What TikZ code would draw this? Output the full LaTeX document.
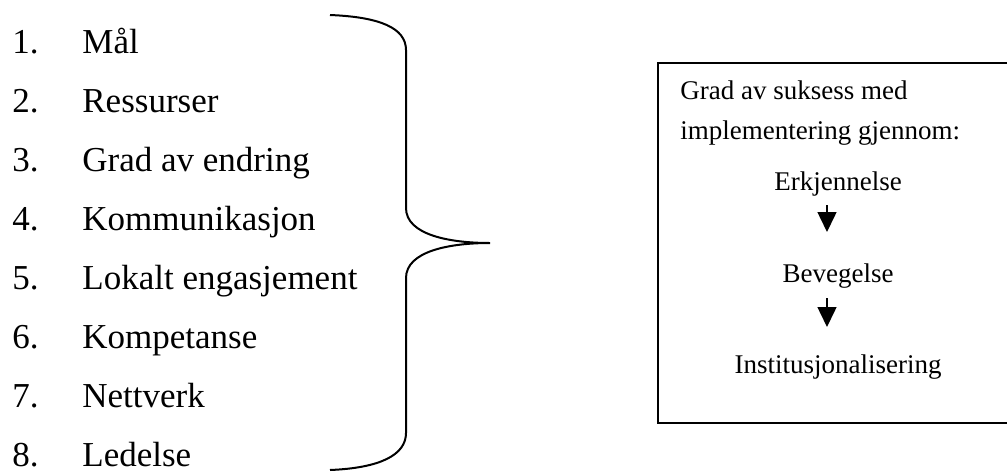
\documentclass[tikz,border=0pt]{standalone}
\usepackage{fontspec}
\setmainfont{Liberation Serif}
\usetikzlibrary{arrows.meta}

\tikzset{
  listtext/.style={anchor=base west, inner sep=0pt, font=\fontsize{17.5}{21}\selectfont},
  boxtext/.style={anchor=base west, inner sep=0pt, font=\fontsize{13.5}{16}\selectfont},
  stagetext/.style={anchor=base, inner sep=0pt, font=\fontsize{13.5}{16}\selectfont},
  stagearrow/.style={line width=0.75pt, -{Triangle[length=10pt,width=9.5pt]}}
}

\begin{document}
\begin{tikzpicture}[x=0.5pt,y=-0.5pt]
		\useasboundingbox (0,0) rectangle (1007,472);

		% list of factors
		\foreach \nr/\txt [count=\i] in {1/Mål,2/Ressurser,3/Grad av endring,4/Kommunikasjon,5/Lokalt engasjement,6/Kompetanse,7/Nettverk,8/Ledelse} {
			\node[listtext] (nr\i) at (12,{53+59*(\i-1)}) {\nr.};
			\node[listtext] (item\i) at (82,{53+59*(\i-1)}) {\txt};
		}

		% brace
		\draw[line width=1pt] (330,15) .. controls (380,17) and (406,28) .. (406,50)
			-- (406,208) .. controls (406,235) and (450,243) .. (490,243)
			.. controls (450,243) and (406,251) .. (406,278)
			-- (406,433) .. controls (406,455) and (380,468) .. (330,470);

		% box
		\draw[line width=1pt] (658,63) rectangle (1040,423);

		\node[boxtext] (head1) at (680,99) {Grad av suksess med};
		\node[boxtext] (head2) at (680,139) {implementering gjennom:};

		\node[stagetext] (erk) at (838,190) {Erkjennelse};
		\node[stagetext] (bev) at (838,282) {Bevegelse};
		\node[stagetext] (inst) at (838,373) {Institusjonalisering};

		\coordinate (a1) at (827,205);
		\coordinate (b1) at (827,232);
		\coordinate (a2) at (827,298);
		\coordinate (b2) at (827,327);
		\draw[stagearrow] (a1) -- (b1);
		\draw[stagearrow] (a2) -- (b2);
    \end{tikzpicture}
\end{document}
